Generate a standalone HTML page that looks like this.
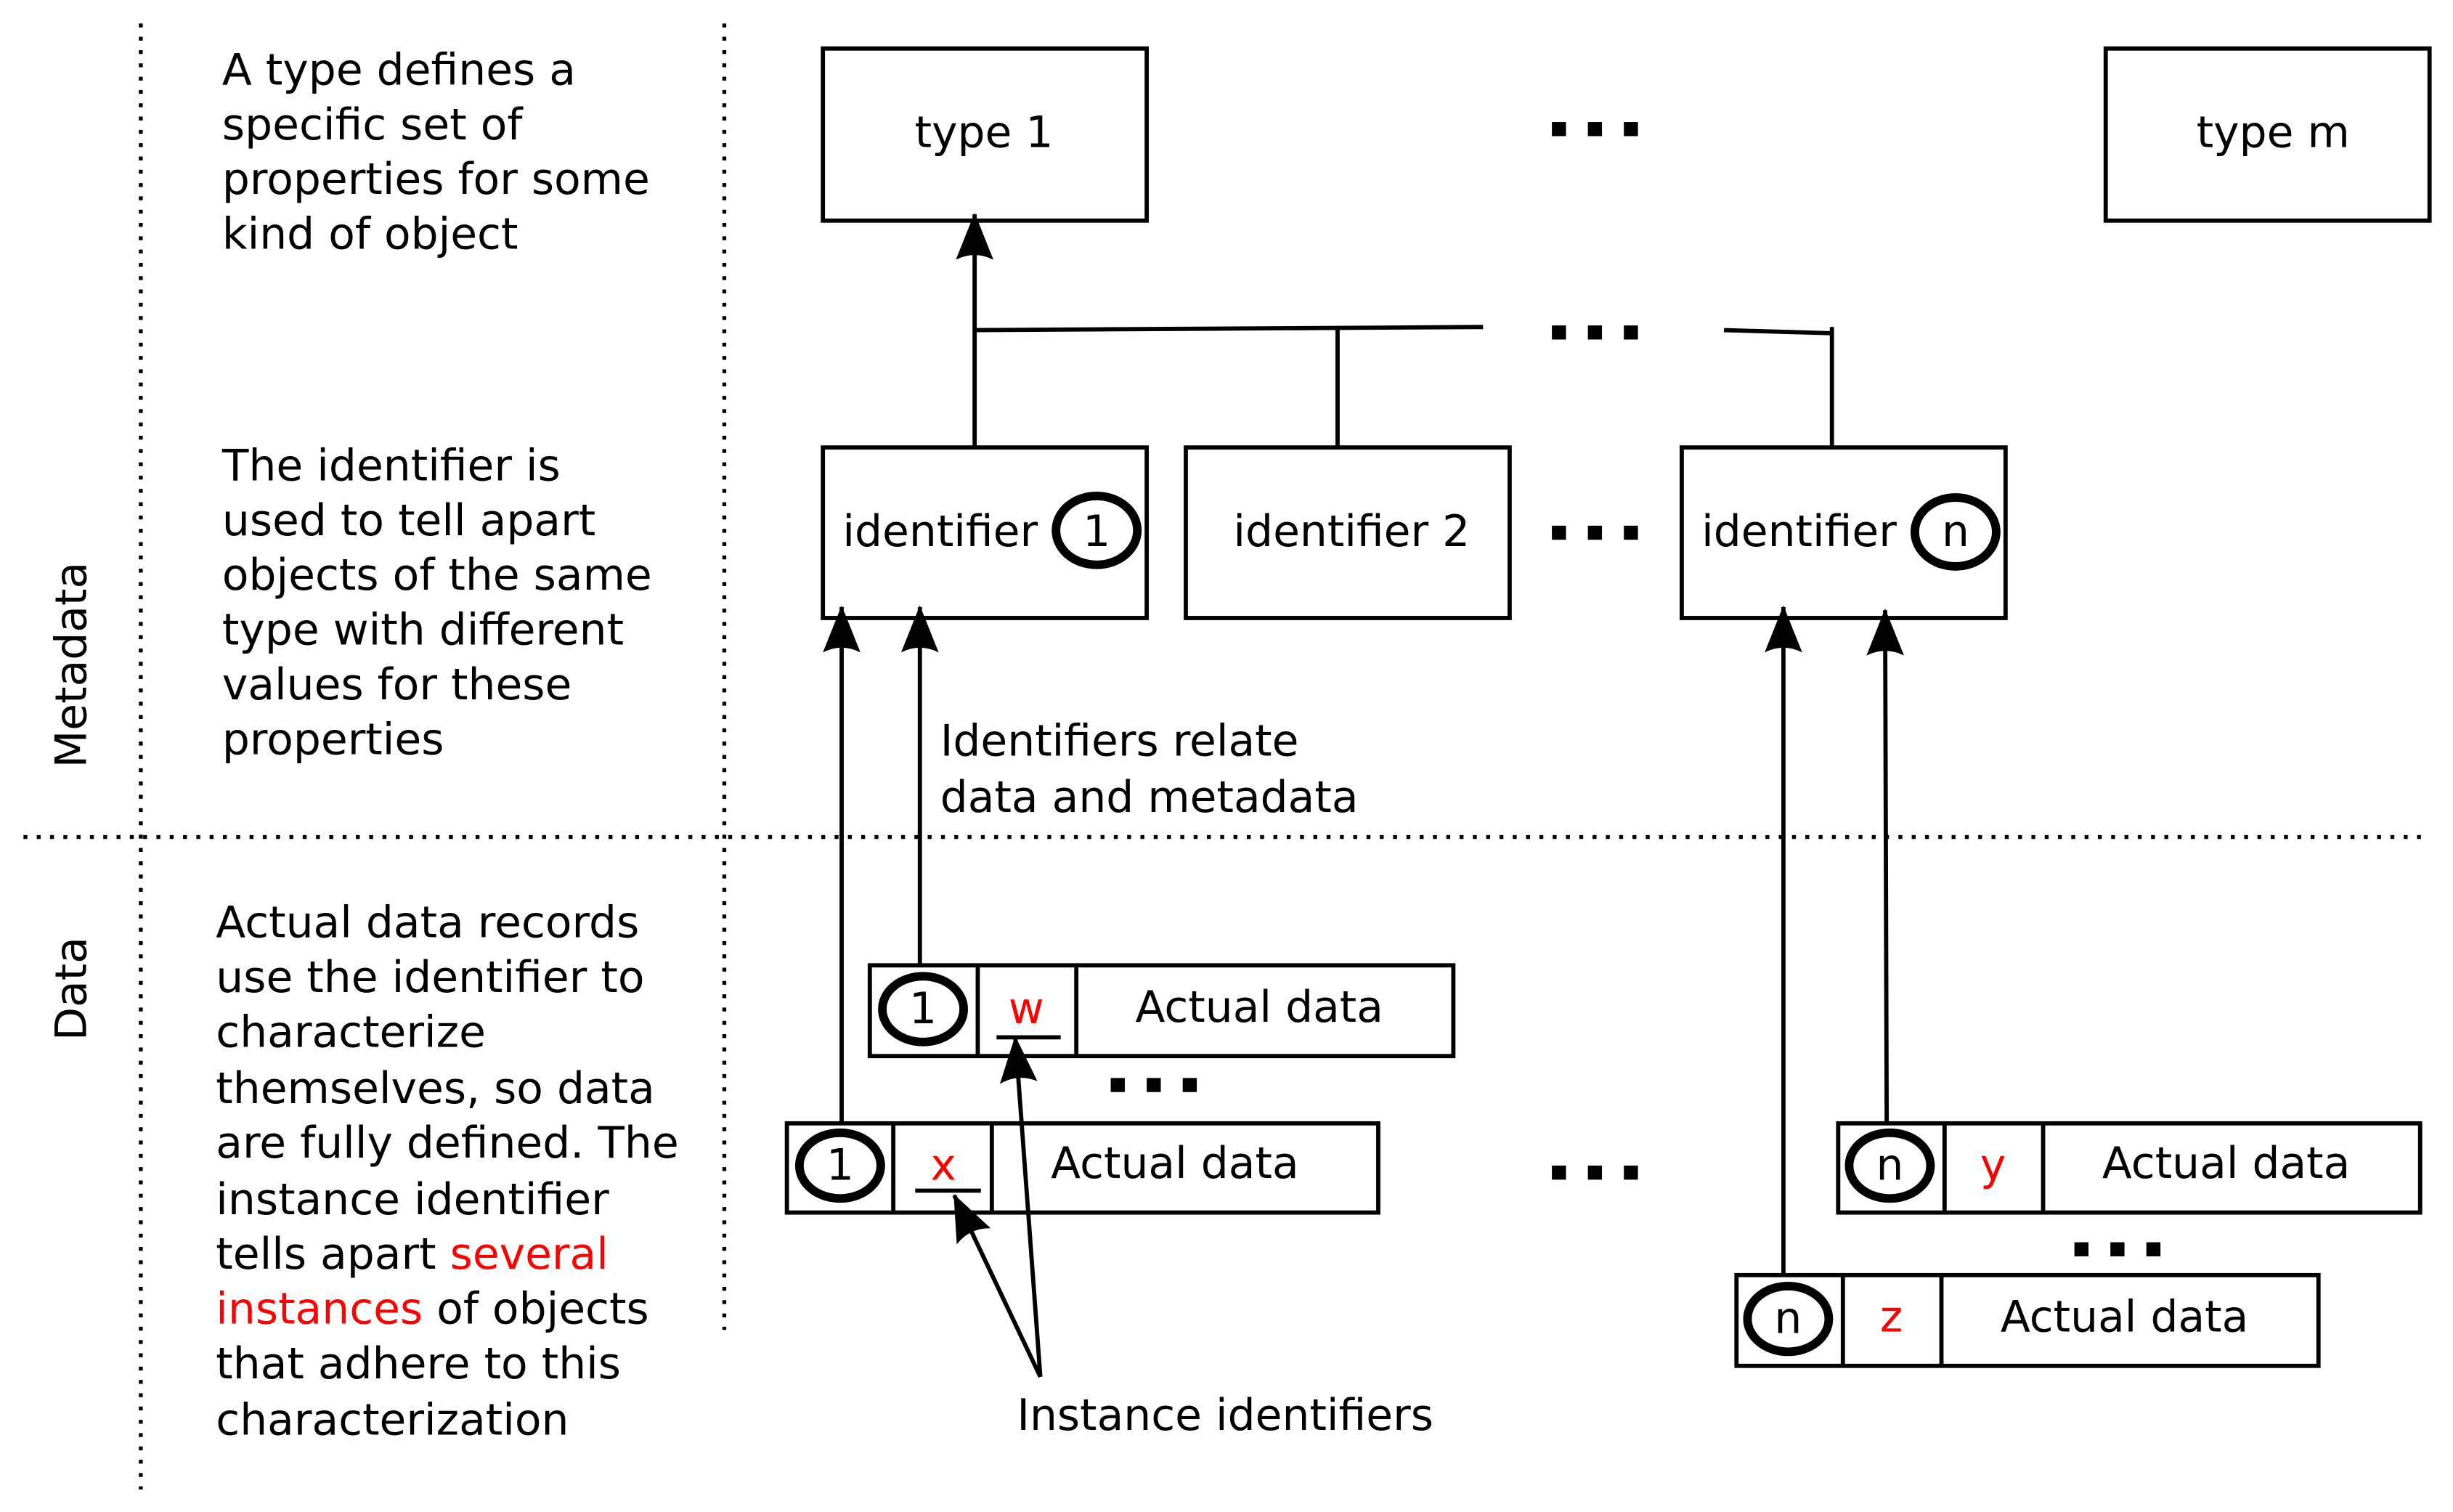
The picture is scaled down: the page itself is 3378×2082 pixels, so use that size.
<!DOCTYPE html>
<html><head><style>html,body{margin:0;padding:0;background:#fff}svg{display:block}</style></head>
<body>
<svg width="3378" height="2082" viewBox="0 0 1568 966.4" xmlns="http://www.w3.org/2000/svg" font-family="'DejaVu Sans','Liberation Sans',sans-serif" font-size="27.8">
<defs>
<marker id="ah" viewBox="0 0 30 24" refX="29" refY="12" markerWidth="30" markerHeight="24" markerUnits="userSpaceOnUse" orient="auto">
<path d="M30,12 L0,0 Q6,12 0,24 Z" fill="#000"/>
</marker>
</defs>
<g stroke="#000" stroke-width="2.5" stroke-dasharray="2.5,6" fill="none">
<line x1="90" y1="15" x2="90" y2="952"/>
<line x1="463" y1="15" x2="463" y2="850"/>
<line x1="15" y1="535" x2="1552" y2="535"/>
</g>
<text transform="translate(55,425) rotate(-90)" text-anchor="middle">Metadata</text>
<text transform="translate(55,632) rotate(-90)" text-anchor="middle">Data</text>
<g>
<text x="142" y="54">A type defines a</text>
<text x="142" y="89">specific set of</text>
<text x="142" y="124">properties for some</text>
<text x="142" y="159">kind of object</text>
<text x="142" y="307">The identifier is</text>
<text x="142" y="342">used to tell apart</text>
<text x="142" y="377">objects of the same</text>
<text x="142" y="412">type with different</text>
<text x="142" y="447">values for these</text>
<text x="142" y="482">properties</text>
<text x="138" y="599">Actual data records</text>
<text x="138" y="634">use the identifier to</text>
<text x="138" y="669">characterize</text>
<text x="138" y="705">themselves, so data</text>
<text x="138" y="740">are fully defined. The</text>
<text x="138" y="776">instance identifier</text>
<text x="138" y="811">tells apart <tspan fill="#f00">several</tspan></text>
<text x="138" y="846"><tspan fill="#f00">instances</tspan> of objects</text>
<text x="138" y="881">that adhere to this</text>
<text x="138" y="917">characterization</text>
<text x="601" y="483">Identifiers relate</text>
<text x="601" y="519">data and metadata</text>
<text x="650" y="914">Instance identifiers</text>
</g>
<g fill="none" stroke="#000" stroke-width="2.7">
<rect x="526" y="31" width="207" height="110"/>
<rect x="1346" y="31" width="207" height="110"/>
<rect x="526" y="286" width="207" height="109"/>
<rect x="758" y="286" width="207" height="109"/>
<rect x="1075" y="286" width="207" height="109"/>
<line x1="623" y1="211" x2="948" y2="209"/>
<line x1="855" y1="209" x2="855" y2="286"/>
<line x1="1102" y1="211" x2="1171" y2="213"/>
<line x1="1171" y1="209" x2="1171" y2="286"/>
<line x1="623" y1="286" x2="623" y2="137" marker-end="url(#ah)"/>
<line x1="538" y1="718" x2="538" y2="388" marker-end="url(#ah)"/>
<line x1="588" y1="617" x2="588" y2="388" marker-end="url(#ah)"/>
<line x1="1140" y1="815" x2="1140" y2="388" marker-end="url(#ah)"/>
<line x1="1206" y1="717" x2="1205" y2="390" marker-end="url(#ah)"/>
<rect x="556" y="617" width="373" height="58"/>
<line x1="625" y1="617" x2="625" y2="675"/><line x1="688" y1="617" x2="688" y2="675"/>
<rect x="503" y="718" width="378" height="57"/>
<line x1="571" y1="718" x2="571" y2="775"/><line x1="634" y1="718" x2="634" y2="775"/>
<rect x="1175" y="718" width="372" height="57"/>
<line x1="1243" y1="718" x2="1243" y2="775"/><line x1="1306" y1="718" x2="1306" y2="775"/>
<rect x="1110" y="815" width="372" height="58"/>
<line x1="1178" y1="815" x2="1178" y2="873"/><line x1="1241" y1="815" x2="1241" y2="873"/>
<line x1="637" y1="663" x2="678" y2="663"/>
<line x1="585" y1="761" x2="627" y2="761"/>
<line x1="665" y1="880" x2="649" y2="663" marker-end="url(#ah)"/>
<line x1="665" y1="880" x2="610" y2="764" marker-end="url(#ah)"/>
</g>
<g fill="none" stroke="#000" stroke-width="5.5">
<ellipse cx="701" cy="339" rx="26" ry="22"/>
<ellipse cx="1250" cy="340" rx="26" ry="22"/>
<ellipse cx="590" cy="645" rx="26" ry="21"/>
<ellipse cx="537" cy="745" rx="26" ry="21"/>
<ellipse cx="1208" cy="745" rx="26" ry="21"/>
<ellipse cx="1143" cy="843" rx="26" ry="21"/>
</g>
<g text-anchor="middle">
<text x="629" y="94">type 1</text>
<text x="1453" y="94">type m</text>
<text x="601" y="349">identifier</text>
<text x="701" y="349">1</text>
<text x="864" y="349">identifier 2</text>
<text x="1150" y="349">identifier</text>
<text x="1250" y="349">n</text>
<text x="590" y="654">1</text><text x="656" y="654" fill="#f00">w</text><text x="805" y="653">Actual data</text>
<text x="537" y="754">1</text><text x="603" y="754" fill="#f00">x</text><text x="751" y="753">Actual data</text>
<text x="1208" y="754">n</text><text x="1274" y="754" fill="#f00">y</text><text x="1423" y="753">Actual data</text>
<text x="1143" y="852">n</text><text x="1209" y="851" fill="#f00">z</text><text x="1358" y="851">Actual data</text>
</g>
<g fill="#000">
<rect x="992" y="78" width="9" height="9"/><rect x="1015" y="78" width="9" height="9"/><rect x="1038" y="78" width="9" height="9"/>
<rect x="992" y="208" width="9" height="9"/><rect x="1015" y="208" width="9" height="9"/><rect x="1038" y="208" width="9" height="9"/>
<rect x="992" y="336" width="9" height="9"/><rect x="1015" y="336" width="9" height="9"/><rect x="1038" y="336" width="9" height="9"/>
<rect x="992" y="745" width="9" height="9"/><rect x="1015" y="745" width="9" height="9"/><rect x="1038" y="745" width="9" height="9"/>
<rect x="710" y="689" width="9" height="9"/><rect x="733" y="689" width="9" height="9"/><rect x="756" y="689" width="9" height="9"/>
<rect x="1326" y="794" width="9" height="9"/><rect x="1349" y="794" width="9" height="9"/><rect x="1372" y="794" width="9" height="9"/>
</g>
</svg>
</body></html>
